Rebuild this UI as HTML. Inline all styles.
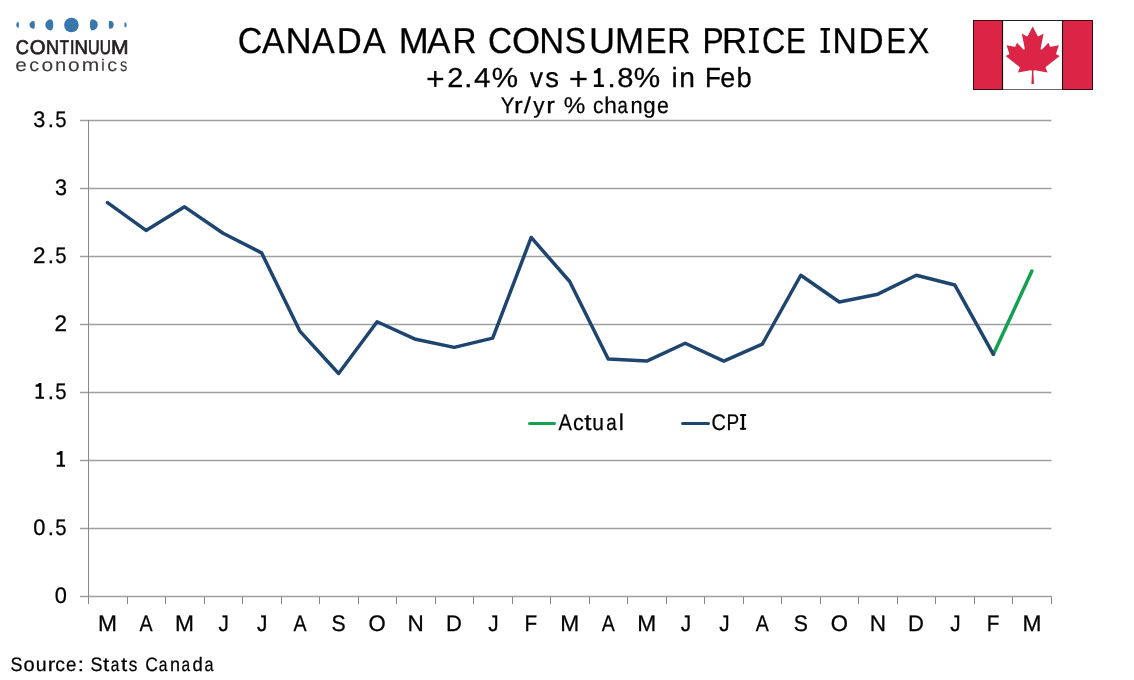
<!DOCTYPE html>
<html><head><meta charset="utf-8"><style>
html,body{margin:0;padding:0;background:#fff;overflow:hidden;}
svg{display:block;will-change:transform;}
text{font-family:"Liberation Sans", sans-serif;fill:#000;stroke:#000;stroke-width:0.25px;text-rendering:geometricPrecision;}
</style></head><body>
<svg width="1134" height="680" viewBox="0 0 1134 680">
<rect width="1134" height="680" fill="#fff"/>
<line x1="80" y1="120.5" x2="1051.5" y2="120.5" stroke="#a0a0a0" stroke-width="1.6"/>
<line x1="80" y1="188.5" x2="1051.5" y2="188.5" stroke="#a0a0a0" stroke-width="1.6"/>
<line x1="80" y1="256.5" x2="1051.5" y2="256.5" stroke="#a0a0a0" stroke-width="1.6"/>
<line x1="80" y1="324.5" x2="1051.5" y2="324.5" stroke="#a0a0a0" stroke-width="1.6"/>
<line x1="80" y1="392.5" x2="1051.5" y2="392.5" stroke="#a0a0a0" stroke-width="1.6"/>
<line x1="80" y1="460.5" x2="1051.5" y2="460.5" stroke="#a0a0a0" stroke-width="1.6"/>
<line x1="80" y1="528.5" x2="1051.5" y2="528.5" stroke="#a0a0a0" stroke-width="1.6"/>
<line x1="80" y1="596.5" x2="1051.5" y2="596.5" stroke="#a0a0a0" stroke-width="1.6"/>
<line x1="88.5" y1="120" x2="88.5" y2="604" stroke="#888888" stroke-width="1"/>
<line x1="127.5" y1="596.5" x2="127.5" y2="604" stroke="#888888" stroke-width="1"/>
<line x1="165.5" y1="596.5" x2="165.5" y2="604" stroke="#888888" stroke-width="1"/>
<line x1="204.5" y1="596.5" x2="204.5" y2="604" stroke="#888888" stroke-width="1"/>
<line x1="242.5" y1="596.5" x2="242.5" y2="604" stroke="#888888" stroke-width="1"/>
<line x1="281.5" y1="596.5" x2="281.5" y2="604" stroke="#888888" stroke-width="1"/>
<line x1="319.5" y1="596.5" x2="319.5" y2="604" stroke="#888888" stroke-width="1"/>
<line x1="358.5" y1="596.5" x2="358.5" y2="604" stroke="#888888" stroke-width="1"/>
<line x1="396.5" y1="596.5" x2="396.5" y2="604" stroke="#888888" stroke-width="1"/>
<line x1="435.5" y1="596.5" x2="435.5" y2="604" stroke="#888888" stroke-width="1"/>
<line x1="473.5" y1="596.5" x2="473.5" y2="604" stroke="#888888" stroke-width="1"/>
<line x1="512.5" y1="596.5" x2="512.5" y2="604" stroke="#888888" stroke-width="1"/>
<line x1="550.5" y1="596.5" x2="550.5" y2="604" stroke="#888888" stroke-width="1"/>
<line x1="589.5" y1="596.5" x2="589.5" y2="604" stroke="#888888" stroke-width="1"/>
<line x1="627.5" y1="596.5" x2="627.5" y2="604" stroke="#888888" stroke-width="1"/>
<line x1="666.5" y1="596.5" x2="666.5" y2="604" stroke="#888888" stroke-width="1"/>
<line x1="704.5" y1="596.5" x2="704.5" y2="604" stroke="#888888" stroke-width="1"/>
<line x1="743.5" y1="596.5" x2="743.5" y2="604" stroke="#888888" stroke-width="1"/>
<line x1="781.5" y1="596.5" x2="781.5" y2="604" stroke="#888888" stroke-width="1"/>
<line x1="820.5" y1="596.5" x2="820.5" y2="604" stroke="#888888" stroke-width="1"/>
<line x1="858.5" y1="596.5" x2="858.5" y2="604" stroke="#888888" stroke-width="1"/>
<line x1="897.5" y1="596.5" x2="897.5" y2="604" stroke="#888888" stroke-width="1"/>
<line x1="935.5" y1="596.5" x2="935.5" y2="604" stroke="#888888" stroke-width="1"/>
<line x1="974.5" y1="596.5" x2="974.5" y2="604" stroke="#888888" stroke-width="1"/>
<line x1="1012.5" y1="596.5" x2="1012.5" y2="604" stroke="#888888" stroke-width="1"/>
<line x1="1051.5" y1="596.5" x2="1051.5" y2="604" stroke="#888888" stroke-width="1"/>
<text transform="translate(33.36,126.70) scale(0.9600,1)" font-size="22.51">3</text>
<text transform="translate(47.85,126.70) scale(1.0000,1)" font-size="22.51">.</text>
<text transform="translate(55.23,126.70) scale(0.9000,1)" font-size="22.51">5</text>
<text transform="translate(54.91,194.70) scale(0.9600,1)" font-size="22.51">3</text>
<text transform="translate(33.05,262.70) scale(1.0000,1)" font-size="22.51">2</text>
<text transform="translate(47.85,262.70) scale(1.0000,1)" font-size="22.51">.</text>
<text transform="translate(55.23,262.70) scale(0.9000,1)" font-size="22.51">5</text>
<text transform="translate(54.60,330.70) scale(1.0000,1)" font-size="22.51">2</text>
<path d="M39.10,382.90 H41.40 V396.80 H44.00 V398.70 H35.60 V396.80 H39.10 V386.80 H35.60 V384.80 Q37.90,384.60 39.10,382.90 Z" fill="#000"/>
<text transform="translate(47.85,398.70) scale(1.0000,1)" font-size="22.51">.</text>
<text transform="translate(55.23,398.70) scale(0.9000,1)" font-size="22.51">5</text>
<path d="M60.20,450.90 H62.50 V464.80 H65.10 V466.70 H56.70 V464.80 H60.20 V454.80 H56.70 V452.80 Q59.00,452.60 60.20,450.90 Z" fill="#000"/>
<text transform="translate(33.21,534.70) scale(0.9700,1)" font-size="22.51">0</text>
<text transform="translate(47.85,534.70) scale(1.0000,1)" font-size="22.51">.</text>
<text transform="translate(55.23,534.70) scale(0.9000,1)" font-size="22.51">5</text>
<text transform="translate(54.76,602.70) scale(0.9700,1)" font-size="22.51">0</text>
<text transform="translate(98.08,630.70) scale(1.0100,1)" font-size="22.55">M</text>
<text transform="translate(139.53,630.70) scale(0.8700,1)" font-size="22.55">A</text>
<text transform="translate(175.11,630.70) scale(1.0100,1)" font-size="22.55">M</text>
<text transform="translate(218.54,630.70) scale(0.9200,1)" font-size="22.55">J</text>
<text transform="translate(257.06,630.70) scale(0.9200,1)" font-size="22.55">J</text>
<text transform="translate(293.59,630.70) scale(0.8700,1)" font-size="22.55">A</text>
<text transform="translate(331.61,630.70) scale(0.9400,1)" font-size="22.55">S</text>
<text transform="translate(368.58,630.70) scale(0.9800,1)" font-size="22.55">O</text>
<text transform="translate(407.54,630.70) scale(1.0000,1)" font-size="22.55">N</text>
<text transform="translate(445.88,630.70) scale(0.9750,1)" font-size="22.55">D</text>
<text transform="translate(488.15,630.70) scale(0.9200,1)" font-size="22.55">J</text>
<text transform="translate(524.47,630.70) scale(0.9200,1)" font-size="22.55">F</text>
<text transform="translate(560.27,630.70) scale(1.0100,1)" font-size="22.55">M</text>
<text transform="translate(601.72,630.70) scale(0.8700,1)" font-size="22.55">A</text>
<text transform="translate(637.30,630.70) scale(1.0100,1)" font-size="22.55">M</text>
<text transform="translate(680.73,630.70) scale(0.9200,1)" font-size="22.55">J</text>
<text transform="translate(719.25,630.70) scale(0.9200,1)" font-size="22.55">J</text>
<text transform="translate(755.78,630.70) scale(0.8700,1)" font-size="22.55">A</text>
<text transform="translate(793.80,630.70) scale(0.9400,1)" font-size="22.55">S</text>
<text transform="translate(830.77,630.70) scale(0.9800,1)" font-size="22.55">O</text>
<text transform="translate(869.73,630.70) scale(1.0000,1)" font-size="22.55">N</text>
<text transform="translate(908.07,630.70) scale(0.9750,1)" font-size="22.55">D</text>
<text transform="translate(950.35,630.70) scale(0.9200,1)" font-size="22.55">J</text>
<text transform="translate(986.66,630.70) scale(0.9200,1)" font-size="22.55">F</text>
<text transform="translate(1022.46,630.70) scale(1.0100,1)" font-size="22.55">M</text>
<polyline points="993.38,354.28 1031.89,271.05" fill="none" stroke="#12a14e" stroke-width="3.5" stroke-linejoin="round" stroke-linecap="round"/>
<polyline points="107.51,202.64 146.02,230.39 184.54,206.86 223.06,233.24 261.57,252.83 300.09,331.44 338.60,373.46 377.12,321.78 415.64,339.32 454.15,347.35 492.67,338.10 531.18,237.46 569.70,281.52 608.22,359.04 646.73,361.08 685.25,343.27 723.76,361.08 762.28,344.22 800.80,275.27 839.31,302.06 877.83,294.17 916.34,275.27 954.86,285.06 993.38,354.28" fill="none" stroke="#1e4570" stroke-width="3.5" stroke-linejoin="round" stroke-linecap="round"/>
<line x1="529.5" y1="423.5" x2="554.5" y2="423.5" stroke="#12a14e" stroke-width="3" stroke-linecap="round"/>
<text transform="translate(558.45,429.70) scale(0.8847,1)" font-size="22.69">A</text>
<text transform="translate(573.08,429.70) scale(0.9532,1)" font-size="22.69">c</text>
<text transform="translate(584.28,429.70) scale(1.1500,1)" font-size="22.69">t</text>
<text transform="translate(592.34,429.70) scale(0.9229,1)" font-size="22.69">u</text>
<text transform="translate(606.20,429.70) scale(0.8255,1)" font-size="22.69">a</text>
<text transform="translate(618.80,429.70) scale(1.0000,1)" font-size="22.90">l</text>
<line x1="682.5" y1="423.5" x2="708.5" y2="423.5" stroke="#1e4570" stroke-width="3" stroke-linecap="round"/>
<text transform="translate(711.40,429.70) scale(0.8779,1)" font-size="22.69">C</text>
<text transform="translate(726.54,429.70) scale(0.8359,1)" font-size="22.69">P</text>
<rect x="741.85" y="414.1" width="2.3" height="15.6" fill="#000"/>
<rect x="740.1" y="414.1" width="6.0" height="1.9" fill="#000"/>
<rect x="740.1" y="427.8" width="6.0" height="1.9" fill="#000"/>
<text transform="translate(237.79,52.80) scale(0.9467,1)" font-size="36.07">C</text>
<text transform="translate(262.01,52.80) scale(0.9457,1)" font-size="36.07">A</text>
<text transform="translate(285.51,52.80) scale(1.0044,1)" font-size="36.07">N</text>
<text transform="translate(312.11,52.80) scale(0.9457,1)" font-size="36.07">A</text>
<text transform="translate(336.85,52.80) scale(0.9591,1)" font-size="36.07">D</text>
<text transform="translate(362.91,52.80) scale(0.9457,1)" font-size="36.07">A</text>
<text transform="translate(398.63,52.80) scale(0.9967,1)" font-size="36.07">M</text>
<text transform="translate(426.91,52.80) scale(0.9750,1)" font-size="36.07">A</text>
<text transform="translate(452.56,52.80) scale(0.9217,1)" font-size="36.07">R</text>
<text transform="translate(488.12,52.80) scale(0.9292,1)" font-size="36.07">C</text>
<text transform="translate(512.08,52.80) scale(1.0033,1)" font-size="36.07">O</text>
<text transform="translate(539.36,52.80) scale(0.9547,1)" font-size="36.07">N</text>
<text transform="translate(564.86,52.80) scale(0.8871,1)" font-size="36.07">S</text>
<text transform="translate(588.90,52.80) scale(1.0014,1)" font-size="36.07">U</text>
<text transform="translate(614.92,52.80) scale(0.9677,1)" font-size="36.07">M</text>
<text transform="translate(645.63,52.80) scale(0.8636,1)" font-size="36.07">E</text>
<text transform="translate(667.34,52.80) scale(0.8936,1)" font-size="36.07">R</text>
<text transform="translate(702.58,52.80) scale(0.8798,1)" font-size="36.07">P</text>
<text transform="translate(722.05,52.80) scale(0.9591,1)" font-size="36.07">R</text>
<rect x="752.35" y="28.0" width="3.0" height="24.8" fill="#000"/>
<rect x="748.90" y="28.0" width="9.90" height="2.5" fill="#000"/>
<rect x="748.90" y="50.3" width="9.90" height="2.5" fill="#000"/>
<text transform="translate(762.08,52.80) scale(0.8985,1)" font-size="36.07">C</text>
<text transform="translate(785.94,52.80) scale(0.8278,1)" font-size="36.07">E</text>
<rect x="823.75" y="28.0" width="3.0" height="24.8" fill="#000"/>
<rect x="820.50" y="28.0" width="9.50" height="2.5" fill="#000"/>
<rect x="820.50" y="50.3" width="9.50" height="2.5" fill="#000"/>
<text transform="translate(832.42,52.80) scale(0.9348,1)" font-size="36.07">N</text>
<text transform="translate(858.43,52.80) scale(0.9638,1)" font-size="36.07">D</text>
<text transform="translate(886.38,52.80) scale(0.8125,1)" font-size="36.07">E</text>
<text transform="translate(907.67,52.80) scale(0.8951,1)" font-size="36.07">X</text>
<rect x="427.40" y="77.80" width="15.80" height="2.4" fill="#000"/>
<rect x="434.10" y="71.0" width="2.4" height="15.9" fill="#000"/>
<text transform="translate(447.25,86.90) scale(1.0594,1)" font-size="27.38">2</text>
<text transform="translate(464.01,86.90) scale(1.1500,1)" font-size="26.98">.</text>
<text transform="translate(474.03,86.90) scale(1.0847,1)" font-size="27.38">4</text>
<text transform="translate(491.76,86.90) scale(1.0655,1)" font-size="27.78">%</text>
<text transform="translate(530.07,86.90) scale(0.9403,1)" font-size="27.78">v</text>
<text transform="translate(545.25,86.90) scale(0.9873,1)" font-size="27.78">s</text>
<rect x="570.30" y="77.80" width="16.30" height="2.4" fill="#000"/>
<rect x="577.25" y="71.0" width="2.4" height="15.9" fill="#000"/>
<path d="M597.9,68 H600.5 V84.6 H603.9 V86.9 H593.9 V84.6 H597.9 V73.2 H593.9 V70.9 Q596.6,70.6 597.9,68 Z" fill="#000"/>
<text transform="translate(607.21,86.90) scale(1.1500,1)" font-size="26.98">.</text>
<text transform="translate(617.26,86.90) scale(1.0645,1)" font-size="27.38">8</text>
<text transform="translate(633.76,86.90) scale(1.0699,1)" font-size="27.78">%</text>
<text transform="translate(671.46,86.90) scale(1.0000,1)" font-size="27.78">i</text>
<text transform="translate(679.20,86.90) scale(1.0138,1)" font-size="27.78">n</text>
<text transform="translate(705.05,86.90) scale(0.9377,1)" font-size="27.78">F</text>
<text transform="translate(720.15,86.90) scale(0.9726,1)" font-size="27.78">e</text>
<text transform="translate(736.42,86.90) scale(0.9839,1)" font-size="27.78">b</text>
<text transform="translate(500.74,112.80) scale(0.8991,1)" font-size="22.69">Y</text>
<text transform="translate(514.08,112.80) scale(1.1500,1)" font-size="22.69">r</text>
<text transform="translate(523.73,112.80) scale(1.1500,1)" font-size="22.69">/</text>
<text transform="translate(533.24,112.80) scale(0.9882,1)" font-size="22.69">y</text>
<text transform="translate(546.13,112.80) scale(1.1500,1)" font-size="22.69">r</text>
<text transform="translate(563.85,112.80) scale(1.0674,1)" font-size="22.69">%</text>
<text transform="translate(593.10,112.80) scale(0.9327,1)" font-size="22.69">c</text>
<text transform="translate(604.32,112.80) scale(0.9968,1)" font-size="22.69">h</text>
<text transform="translate(617.41,112.80) scale(0.8169,1)" font-size="22.69">a</text>
<text transform="translate(630.53,112.80) scale(0.9596,1)" font-size="22.69">n</text>
<text transform="translate(643.36,112.80) scale(0.9793,1)" font-size="22.69">g</text>
<text transform="translate(656.90,112.80) scale(0.9377,1)" font-size="22.69">e</text>
<text transform="translate(10.39,670.80) scale(0.9190,1)" font-size="19.49">S</text>
<text transform="translate(23.45,670.80) scale(1.0315,1)" font-size="19.49">o</text>
<text transform="translate(35.73,670.80) scale(1.0020,1)" font-size="19.49">u</text>
<text transform="translate(47.74,670.80) scale(1.1500,1)" font-size="19.49">r</text>
<text transform="translate(55.18,670.80) scale(0.9903,1)" font-size="19.49">c</text>
<text transform="translate(65.90,670.80) scale(0.9606,1)" font-size="19.49">e</text>
<text transform="translate(77.66,670.80) scale(1.1500,1)" font-size="19.49">:</text>
<text transform="translate(90.39,670.80) scale(0.9190,1)" font-size="19.49">S</text>
<text transform="translate(103.06,670.80) scale(1.1500,1)" font-size="19.49">t</text>
<text transform="translate(110.74,670.80) scale(0.7909,1)" font-size="19.49">a</text>
<text transform="translate(120.91,670.80) scale(1.1500,1)" font-size="19.49">t</text>
<text transform="translate(128.83,670.80) scale(0.8795,1)" font-size="19.49">s</text>
<text transform="translate(145.32,670.80) scale(0.9004,1)" font-size="19.49">C</text>
<text transform="translate(158.74,670.80) scale(0.8009,1)" font-size="19.49">a</text>
<text transform="translate(170.09,670.80) scale(0.9229,1)" font-size="19.49">n</text>
<text transform="translate(181.44,670.80) scale(0.7909,1)" font-size="19.49">a</text>
<text transform="translate(192.42,670.80) scale(0.9463,1)" font-size="19.49">d</text>
<text transform="translate(204.41,670.80) scale(0.8309,1)" font-size="19.49">a</text>
<path d="M18.60,21.90 A2.30,2.95 0 0 0 18.60,27.80 A0.30,2.95 0 0 0 18.60,21.90 Z" fill="#3976ab"/>
<path d="M34.00,20.90 A4.50,3.95 0 0 0 34.00,28.80 A0.80,3.95 0 0 0 34.00,20.90 Z" fill="#3976ab"/>
<path d="M50.90,19.30 A5.60,5.55 0 0 0 50.90,30.40 A2.40,5.55 0 0 0 50.90,19.30 Z" fill="#3976ab"/>
<circle cx="71.4" cy="25" r="7.3" fill="#3976ab"/>
<path d="M92.00,19.20 A5.80,5.60 0 0 1 92.00,30.40 A2.10,5.60 0 0 1 92.00,19.20 Z" fill="#3976ab"/>
<path d="M109.50,20.80 A4.20,4.00 0 0 1 109.50,28.80 A0.70,4.00 0 0 1 109.50,20.80 Z" fill="#3976ab"/>
<path d="M124.80,22.30 A1.90,2.65 0 0 1 124.80,27.60 A0.30,2.65 0 0 1 124.80,22.30 Z" fill="#3976ab"/>
<text transform="translate(15.84,53.55) scale(0.9191,1)" font-size="19.78" style="fill:#231f20;stroke:#231f20;stroke-width:0.7">C</text>
<text transform="translate(29.78,53.55) scale(1.0295,1)" font-size="19.78" style="fill:#231f20;stroke:#231f20;stroke-width:0.7">O</text>
<text transform="translate(45.96,53.55) scale(0.9158,1)" font-size="19.78" style="fill:#231f20;stroke:#231f20;stroke-width:0.7">N</text>
<text transform="translate(59.81,53.55) scale(0.7605,1)" font-size="19.78" style="fill:#231f20;stroke:#231f20;stroke-width:0.7">T</text>
<text transform="translate(70.05,53.55) scale(0.8198,1)" font-size="19.78" style="fill:#231f20;stroke:#231f20;stroke-width:0.7">I</text>
<text transform="translate(74.61,53.55) scale(0.9430,1)" font-size="19.78" style="fill:#231f20;stroke:#231f20;stroke-width:0.7">N</text>
<text transform="translate(88.11,53.55) scale(0.8106,1)" font-size="19.78" style="fill:#231f20;stroke:#231f20;stroke-width:0.7">U</text>
<text transform="translate(99.85,53.55) scale(0.7839,1)" font-size="19.78" style="fill:#231f20;stroke:#231f20;stroke-width:0.7">U</text>
<text transform="translate(110.91,53.55) scale(1.0678,1)" font-size="19.78" style="fill:#231f20;stroke:#231f20;stroke-width:0.7">M</text>
<text transform="translate(15.21,70.80) scale(1.1436,1)" font-size="18.23" style="fill:#3a3a3a;stroke:#3a3a3a;stroke-width:0.1px">e</text>
<text transform="translate(29.26,70.80) scale(1.0842,1)" font-size="18.23" style="fill:#3a3a3a;stroke:#3a3a3a;stroke-width:0.1px">c</text>
<text transform="translate(41.61,70.80) scale(1.1500,1)" font-size="18.23" style="fill:#3a3a3a;stroke:#3a3a3a;stroke-width:0.1px">o</text>
<text transform="translate(54.94,70.80) scale(1.1034,1)" font-size="18.23" style="fill:#3a3a3a;stroke:#3a3a3a;stroke-width:0.1px">n</text>
<text transform="translate(68.06,70.80) scale(1.1500,1)" font-size="18.23" style="fill:#3a3a3a;stroke:#3a3a3a;stroke-width:0.1px">o</text>
<text transform="translate(81.65,70.80) scale(1.1500,1)" font-size="18.23" style="fill:#3a3a3a;stroke:#3a3a3a;stroke-width:0.1px">m</text>
<text transform="translate(107.26,70.80) scale(1.0842,1)" font-size="18.23" style="fill:#3a3a3a;stroke:#3a3a3a;stroke-width:0.1px">c</text>
<text transform="translate(120.10,70.80) scale(0.8023,1)" font-size="18.23" style="fill:#3a3a3a;stroke:#3a3a3a;stroke-width:0.1px">s</text>
<rect x="102.2" y="61.5" width="1.5" height="9.3" fill="#3a3a3a"/>
<rect x="102.1" y="58.8" width="1.7" height="1.5" fill="#3a3a3a"/>
<g>
<rect x="973" y="20" width="120" height="70" fill="#dc2447"/>
<rect x="1003" y="21" width="59" height="68" fill="#ffffff"/>
<rect x="973.5" y="20.5" width="119" height="69" fill="none" stroke="#3d0a16" stroke-width="1"/>
<line x1="1003" y1="20.5" x2="1062" y2="20.5" stroke="#1e1e1e" stroke-width="1"/>
<line x1="1003" y1="89.5" x2="1062" y2="89.5" stroke="#6a6a6a" stroke-width="1"/>
<line x1="1002.5" y1="20" x2="1002.5" y2="90" stroke="#160408" stroke-width="1.2"/>
<line x1="1062.5" y1="20" x2="1062.5" y2="90" stroke="#160408" stroke-width="1.1"/>
<path transform="translate(963.0,20.7) scale(0.01452,0.0143)" fill="#dc2447" d="M4890 4430l-45-863a95 95 0 0 1 111-98l859 151-116-320a65 65 0 0 1 20-73l941-762-212-99a65 65 0 0 1-34-79l186-572-542 115a65 65 0 0 1-73-38l-105-247-423 454a65 65 0 0 1-111-57l204-1052-327 189a65 65 0 0 1-91-27l-332-652-332 652a65 65 0 0 1-91 27l-327-189 204 1052a65 65 0 0 1-111 57l-423-454-105 247a65 65 0 0 1-73 38l-542-115 186 572a65 65 0 0 1-34 79l-212 99 941 762a65 65 0 0 1 20 73l-116 320 859-151a95 95 0 0 1 111 98l-45 863z"/>
</g>
</svg>
</body></html>
